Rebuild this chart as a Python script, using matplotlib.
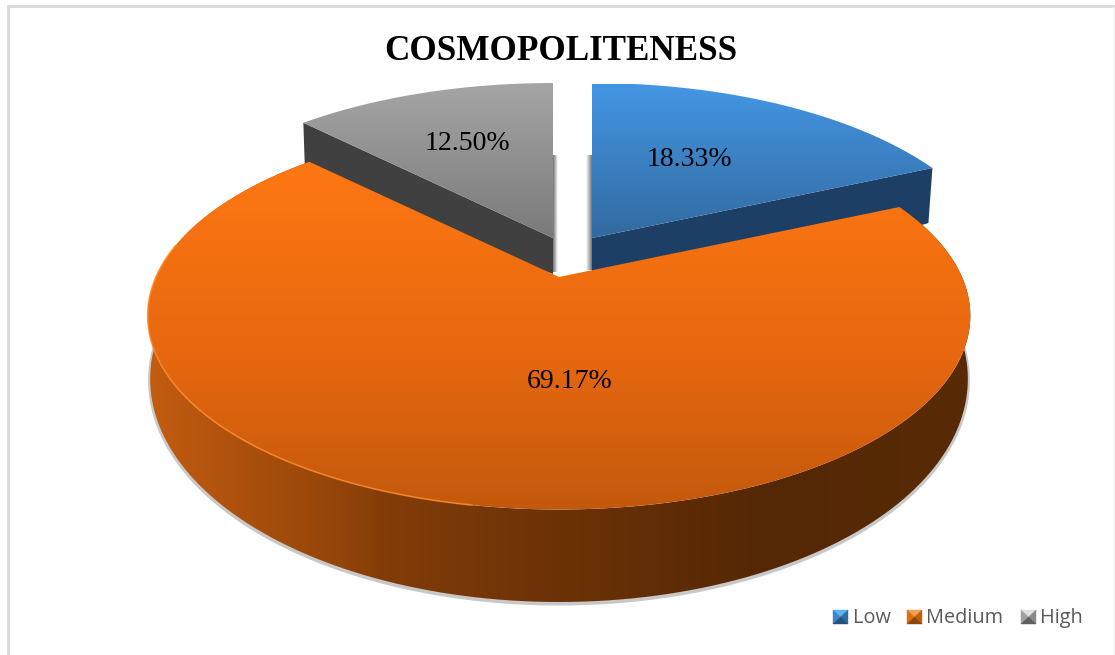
#!/usr/bin/env python
"""3D style exploded pie, drawn by hand because matplotlib has no perspective pie."""
import numpy as np
import matplotlib
matplotlib.use("Agg")
import matplotlib.pyplot as plt
from matplotlib.patches import PathPatch, Polygon
from matplotlib.path import Path

TITLE = "COSMOPOLITENESS"
categories = ["Low", "Medium", "High"]
values = [18.33, 69.17, 12.50]

W, H = 1115, 655
# apex of each slice on the top face, pixels
apex = [(592, 238), (559, 277), (553, 238)]
label_xy = [(689, 160), (570, 381), (467, 143)]
legend_x = [(833, 853), (907, 926), (1021, 1040)]

# top face / bottom face perspective (rx, ry, k, drop)
TOP = (403, 186, 0.20, 0)
BOT = (390, 203, 0.30, 35)

SERIF = "Liberation Serif"


def project(cx, cy, theta, face):
    """theta is clockwise from 12 o'clock, in degrees."""
    rx, ry, k, drop = face
    t = np.radians(theta)
    u, v = np.sin(t), np.cos(t)
    w = 1 + k * v
    return cx + rx * u / w, cy + drop - ry * v / w


def arc(cx, cy, a0, a1, face):
    th = np.linspace(a0, a1, 200)
    x, y = project(cx, cy, th, face)
    return np.column_stack([x, y])


def grad_fill(ax, verts, stops, extent, vertical=True, z=1):
    pos = [s[0] for s in stops]
    t = np.linspace(0, 1, 256)
    rgb = np.stack([np.interp(t, pos, [s[1][i] for s in stops]) for i in range(3)], axis=-1) / 255
    img = rgb[:, None, :] if vertical else rgb[None, :, :]
    im = ax.imshow(img, extent=extent, aspect="auto", zorder=z, interpolation="bilinear")
    patch = PathPatch(Path(np.vstack([verts, verts[:1]])), fc="none", ec="none", transform=ax.transData)
    ax.add_patch(patch)
    im.set_clip_path(patch)
    return im


fig = plt.figure(figsize=(W / 100, H / 100), dpi=100)
ax = fig.add_axes([0, 0, 1, 1])
ax.axis("off")

edges = np.cumsum([0] + values) * 3.6
low_a, med_a, high_a = [(edges[i], edges[i + 1]) for i in range(3)]

# --- High (grey): cut face then top
cx, cy = apex[2]
top = arc(cx, cy, high_a[0], high_a[1], TOP)
p0 = np.array(project(cx, cy, high_a[0], TOP))
ax.add_patch(Polygon([(cx, cy), p0, p0 + [2, 60], (cx, cy + 36)], fc="#404040", ec="none", zorder=2))
grad_fill(ax, np.vstack([[(cx, cy)], top]), [(0, (166, 166, 166)), (1, (122, 122, 122))],
          (300, 555, cy, 80), z=3)

# --- Low (blue): cut face then top
cx, cy = apex[0]
top = arc(cx, cy, low_a[0], low_a[1], TOP)
p1 = np.array(project(cx, cy, low_a[1], TOP))
ax.add_patch(Polygon([(cx, cy), p1, p1 + [-4, 55], (cx, cy + 32 + 55)], fc="#1d3f66", ec="none", zorder=2))
grad_fill(ax, np.vstack([[(cx, cy)], top]), [(0, (68, 150, 228)), (1, (50, 106, 160))],
          (590, 935, cy, 84), z=3)

# soft shadows along the gap
for x0, x1, a0, a1, y1 in [(apex[2][0], apex[2][0] + 5, 0.55, 0, 272), (apex[0][0] - 6, apex[0][0], 0, 0.55, 270)]:
    rgba = np.zeros((1, 32, 4))
    rgba[..., 3] = np.linspace(a0, a1, 32)
    ax.imshow(rgba, extent=(x0, x1, y1, 155), aspect="auto", zorder=1)

# --- Medium (orange): wall then top
cx, cy = apex[1]
upper = arc(cx, cy, med_a[0], med_a[1], TOP)
lower = arc(cx, cy, med_a[0], med_a[1], BOT)
shadow = arc(cx, cy, 97, 263, BOT)
ax.plot(shadow[:, 0], shadow[:, 1] + 1.5, color="#777777", lw=3, alpha=0.4, zorder=4)
wall = np.vstack([upper, lower[::-1]])
grad_fill(ax, wall,
          [(0, (195, 92, 16)), (0.22, (150, 70, 10)), (0.29, (130, 60, 8)),
           (0.5, (108, 50, 7)), (0.74, (85, 40, 5)), (1, (88, 42, 6))],
          (148, 972, 620, 100), vertical=False, z=5)
grad_fill(ax, np.vstack([[(cx, cy)], upper]), [(0, (255, 120, 18)), (0.55, (232, 104, 16)), (1, (194, 88, 12))],
          (145, 975, 515, 150), z=6)
front = arc(cx, cy, 190, 280, TOP)
ax.plot(front[:, 0], front[:, 1], color="#ff8a2a", lw=1.2, alpha=0.8, zorder=7)

# --- labels
for (x, y), v in zip(label_xy, values):
    ax.text(x, y, f"{v:.2f}%", family=SERIF, fontsize=20, color="black", ha="center", va="center", zorder=10)

ax.text(561, 51, TITLE, family=SERIF, fontsize=25.3, fontweight="bold", color="black",
        ha="center", va="center", zorder=10)

# --- legend with bevelled swatches
swatch = [("#5ab4f0", "#3d85c6", "#2e6da4", "#24527f"),
          ("#f9a04a", "#d9700f", "#c0600c", "#8f4506"),
          ("#e0e0e0", "#a0a0a0", "#8a8a8a", "#5e5e5e")]
for (sx, tx), name, cols in zip(legend_x, categories, swatch):
    y0, y1, x1 = 610, 624, sx + 15
    mx, my = (sx + x1) / 2, (y0 + y1) / 2
    tri = [[(sx, y0), (x1, y0), (mx, my)], [(sx, y0), (sx, y1), (mx, my)],
           [(x1, y0), (x1, y1), (mx, my)], [(sx, y1), (x1, y1), (mx, my)]]
    for pts, c in zip(tri, cols):
        ax.add_patch(Polygon(pts, fc=c, ec=c, lw=0.3, zorder=10))
    ax.text(tx, 618, name, family="Open Sans", fontsize=14.3, color="#595959", ha="left", va="center", zorder=10)

# chart frame: the bottom edge is cropped away
ax.plot([8, 8, W], [H, 6, 6], color="#d9d9d9", lw=2, zorder=0, solid_joinstyle="miter")
ax.plot([W - 1, W - 1], [7, H], color="#f0f0f0", lw=1, zorder=0)

ax.set_xlim(0, W)
ax.set_ylim(H, 0)
fig.savefig("out.png", dpi=100, facecolor="white")
